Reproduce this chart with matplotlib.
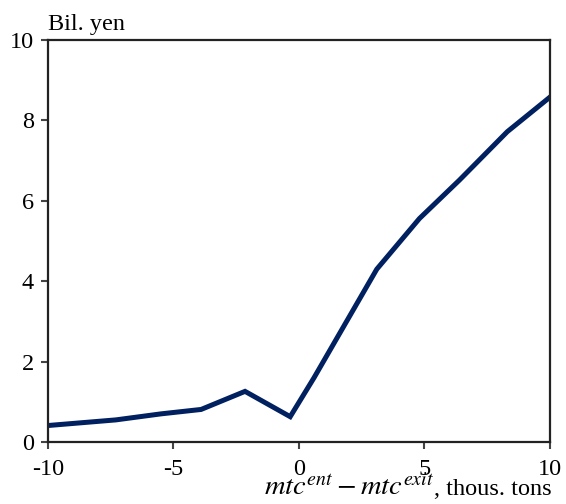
import matplotlib
matplotlib.use("Agg")
import matplotlib.pyplot as plt
from matplotlib.transforms import offset_copy

x_vals = [-10, -7.3, -5.5, -3.9, -2.15, -0.35, 0.6, 3.1, 4.8, 6.4, 8.3, 10]
y_vals = [0.41, 0.55, 0.70, 0.81, 1.26, 0.63, 1.60, 4.30, 5.56, 6.52, 7.72, 8.58]
x_ticks = [-10, -5, 0, 5, 10]
y_ticks = [0, 2, 4, 6, 8, 10]

plt.rcParams['font.family'] = ['Liberation Serif', 'DejaVu Serif']
plt.rcParams['mathtext.fontset'] = 'stix'

fig = plt.figure(figsize=(5.66, 5.04), dpi=100)
ax = fig.add_axes([0.0848, 0.123, 0.8869, 0.7976])
ax.plot(x_vals, y_vals, color='#002060', lw=3.6, solid_joinstyle='miter')
ax.set_xlim(-10, 10)
ax.set_ylim(0, 10)
ax.set_xticks(x_ticks)
ax.set_yticks(y_ticks)
ax.set_xticklabels([str(t) for t in x_ticks])
ax.set_yticklabels([str(t) for t in y_ticks])
for s in ax.spines.values():
    s.set_linewidth(1.6)
    s.set_color('#222222')
ax.tick_params(direction='out', length=5, width=1.5, labelsize=17.5, color='#444444')
ax.tick_params(axis='x', pad=7)
ax.tick_params(axis='y', pad=5)
ax.text(0, 1.012, 'Bil. yen', transform=ax.transAxes, ha='left', va='bottom', fontsize=17.5)

lab_y = -0.132
t_txt = ax.text(1.003, lab_y, ', thous. tons', transform=ax.transAxes,
                ha='right', va='baseline', fontsize=17.5)
fig.canvas.draw()
bb = t_txt.get_window_extent()
x_left_axes = ax.transAxes.inverted().transform((bb.x0, bb.y0))[0]
ax.text(x_left_axes, lab_y, r'$mtc^{ent} - mtc^{exit}$', transform=ax.transAxes,
        ha='right', va='baseline', fontsize=20.5)
fig.savefig('out.png', dpi=100)
